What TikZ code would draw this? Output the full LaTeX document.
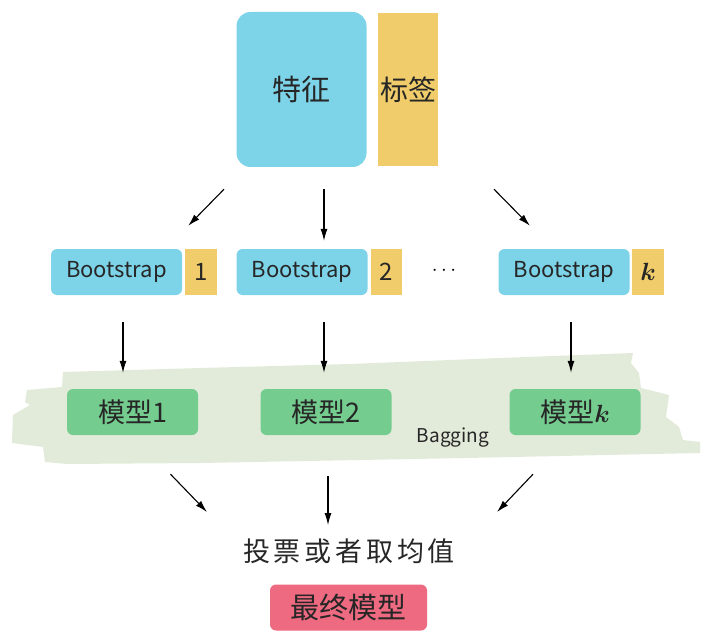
\documentclass[tikz,border=0pt]{standalone}
\usepackage{bm}
\usepackage{fontspec}
\setmainfont{Noto Sans CJK SC}
\usetikzlibrary{arrows.meta}
\definecolor{featblue}{HTML}{7DD3E8}
\definecolor{tagyellow}{HTML}{F0CD6A}
\definecolor{modelgreen}{HTML}{74CC8F}
\definecolor{bandgreen}{HTML}{E2EBD9}
\definecolor{finalred}{HTML}{EE6A80}
\tikzset{
	box/.style      = {shape=rectangle, rounded corners=6pt, inner sep=0pt,
		text=black!85},
	feature/.style  = {box, fill=featblue, rounded corners=14pt,
		minimum width=130pt, minimum height=155pt,
		font=\fontsize{29}{33}\selectfont},
	tagbox/.style   = {box, fill=tagyellow, rounded corners=0pt,
		font=\fontsize{24}{28}\selectfont},
	boot/.style     = {box, fill=featblue, minimum width=131pt,
		minimum height=46pt, font=\fontsize{22}{25}\selectfont},
	model/.style    = {box, fill=modelgreen, minimum width=131pt,
		minimum height=46pt, font=\fontsize{27}{30}\selectfont},
	finalbox/.style = {box, fill=finalred, minimum width=157pt,
		minimum height=46pt, font=\fontsize{29}{32}\selectfont},
	arr/.style      = {draw, -{Latex[length=12pt,width=7pt]}, line width=1.1pt}
}

\begin{document}
\begin{tikzpicture}
[
x = 1pt,
y = -1pt
]
\useasboundingbox (0,0) rectangle (706,639);
% background band
\fill [bandgreen] (63,372) -- (200,368) -- (350,364) -- (500,358) -- (633,353)
	-- (631,363) -- (639,373) -- (641,388) -- (669,395) -- (666,417)
	-- (679,427) -- (683,440) -- (700,442) -- (700,453) -- (466,458)
	-- (200,463) -- (67,464) -- (45,462) -- (43,447) -- (12,443)
	-- (13,415) -- (30,405) -- (25,402) -- (27,390) -- (62,387) -- cycle;

\node [feature] (feat) at (301.5,89.5) {特征};
\node [tagbox, minimum width=60pt, minimum height=153pt,
	font=\fontsize{28}{32}\selectfont] (label) at (408,89.5) {标签};

\node [boot] (boot1) at (116.5,272) {Bootstrap};
\node [tagbox, minimum width=32pt, minimum height=46pt] (tag1) at (201,272) {1};
\node [boot] (boot2) at (302,272) {Bootstrap};
\node [tagbox, minimum width=31pt, minimum height=46pt] (tag2) at (386.5,272) {2};
\node [font=\fontsize{22}{24}\selectfont] (dots) at (444,271) {$\cdots$};
\node [boot] (bootk) at (564,272) {Bootstrap};
\node [tagbox, minimum width=32pt, minimum height=46pt] (tagk) at (648,272) {$\bm{k}$};

\node [model] (model1) at (132.5,412) {模型1};
\node [model] (model2) at (326,412) {模型2};
\node [model] (modelk) at (575,412) {模型$\bm{k}$};
\node [font=\fontsize{19}{22}\selectfont, text=black!85] (bagging) at (453,438) {Bagging};

\node [font=\fontsize{27}{30}\selectfont\addfontfeature{LetterSpace=14}, text=black!85]
	(vote) at (349,551) {投票或者取均值};
\node [finalbox] (final) at (348.5,607.5) {最终模型};

% features to bootstrap samples
\draw [arr] ([shift={(-77.5,22)}]feat.south) -- ([shift={(6,-23)}]boot1.north east);
\draw [arr] ([shift={(22.5,22)}]feat.south) -- ([shift={(22,-8)}]boot2.north);
\draw [arr] ([shift={(192.5,22)}]feat.south) -- ([shift={(-34,-23)}]bootk.north);
% samples to models
\draw [arr] ([shift={(6.5,27)}]boot1.south) -- ([shift={(-9.5,-16)}]model1.north);
\draw [arr] ([shift={(22,27)}]boot2.south) -- ([shift={(-2,-16)}]model2.north);
\draw [arr] ([shift={(7,27)}]bootk.south) -- ([shift={(-4,-16)}]modelk.north);
% models to vote
\draw [arr] ([shift={(38,39)}]model1.south) -- ([shift={(-142,-23)}]vote.north);
\draw [arr] ([shift={(2,41)}]model2.south) -- ([shift={(-21,-10)}]vote.north);
\draw [arr] ([shift={(-42,39)}]modelk.south) -- ([shift={(148,-23)}]vote.north);
\end{tikzpicture}
\end{document}
